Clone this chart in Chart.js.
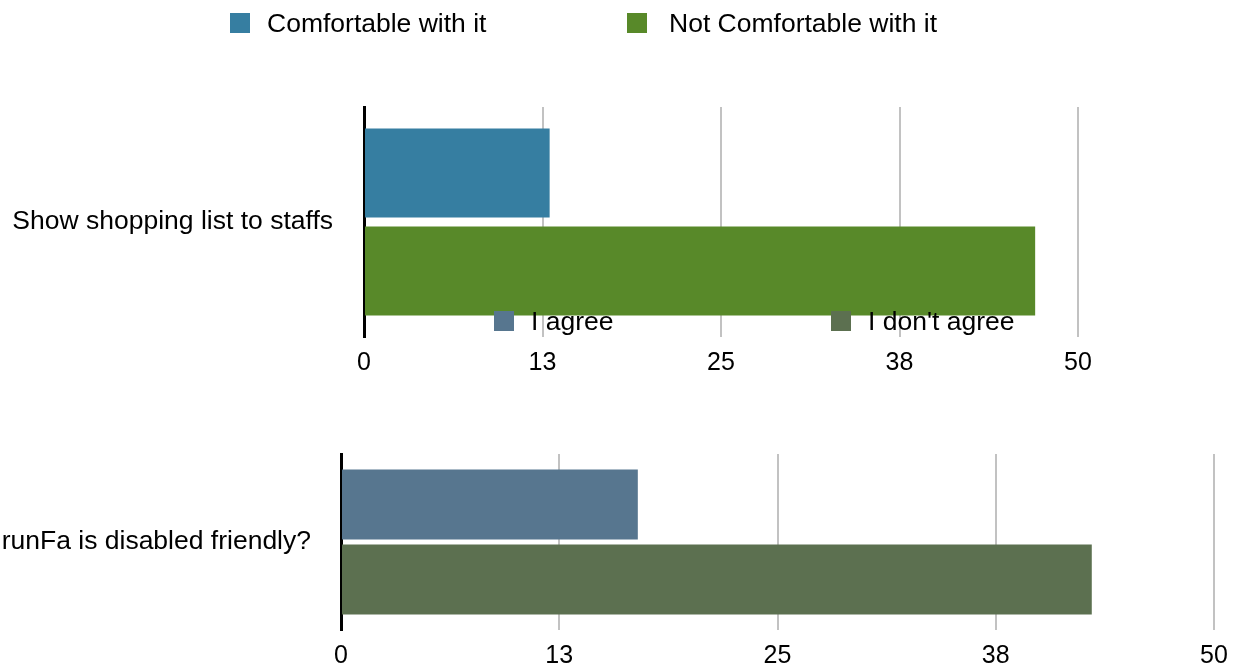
<!DOCTYPE html>
<html>
<head>
<meta charset="utf-8">
<script src="https://cdn.jsdelivr.net/npm/chart.js@4/dist/chart.umd.min.js"></script>
<style>
  html, body { margin: 0; padding: 0; background: #fff; }
  body { width: 1240px; height: 668px; position: relative; overflow: hidden; font-family: "Liberation Sans", Arial, sans-serif; }
  .panel { position: absolute; left: 0; width: 1240px; }
  .legend { position: absolute; z-index: 5; font-size: 26.5px; color: #000; white-space: nowrap; }
  .legend .item { position: absolute; top: 0; height: 20px; }
  .legend .box { position: absolute; left: 0; top: 0; width: 20px; height: 20px; }
  .legend .txt { position: absolute; top: -5px; line-height: 30px; }
</style>
</head>
<body>
<div class="panel" id="p1" style="top:0;height:385px"><canvas id="c1"></canvas></div>
<div class="panel" id="p2" style="top:400px;height:268px"><canvas id="c2"></canvas></div>
<div class="legend" id="l1" style="left:0;top:13px"></div>
<div class="legend" id="l2" style="left:0;top:311px"></div>
<script>
// Survey answers (number of respondents)
const staffCategories = ['Show shopping list to staffs'];
const staffSeriesNames = ['Comfortable with it', 'Not Comfortable with it'];
const staffComfortable = [13];
const staffNotComfortable = [47];

const accessCategories = ['runFa is disabled friendly?'];
const accessSeriesNames = ['I agree', "I don't agree"];
const accessAgree = [17];
const accessDisagree = [43];

const axisMax = 50;
const axisStep = 12.5;

const FONT = '"Liberation Sans", Arial, sans-serif';

function makeOptions(cfg) {
  return {
    indexAxis: 'y',
    responsive: true,
    maintainAspectRatio: false,
    animation: false,
    layout: { padding: cfg.padding },
    plugins: { legend: { display: false }, tooltip: { enabled: false } },
    datasets: { bar: { categoryPercentage: cfg.cp, barPercentage: cfg.bp } },
    scales: {
      x: {
        min: 0, max: axisMax,
        ticks: {
          stepSize: axisStep,
          padding: 11,
          color: '#000',
          font: { family: FONT, size: 25 },
          callback: v => Math.round(v)
        },
        grid: { color: '#c2c2c2', lineWidth: 2, drawTicks: false },
        border: { display: false },
        afterFit: s => { s.height = cfg.xHeight; s.paddingLeft = 0; s.paddingRight = 0; }
      },
      y: {
        ticks: { padding: cfg.labelGap, color: '#000', font: { family: FONT, size: 26.5 } },
        grid: { display: false, drawTicks: false },
        border: { display: true, color: '#000', width: 3 },
        afterFit: s => { s.width = cfg.yWidth; s.paddingTop = 0; s.paddingBottom = 0; }
      }
    }
  };
}

const chart1 = new Chart(document.getElementById('c1'), {
  type: 'bar',
  data: {
    labels: staffCategories,
    datasets: [
      { label: staffSeriesNames[0], data: staffComfortable, backgroundColor: '#367ea1' },
      { label: staffSeriesNames[1], data: staffNotComfortable, backgroundColor: '#588929' }
    ]
  },
  options: makeOptions({ padding: { left: 0, right: 162, top: 107, bottom: 0 }, xHeight: 48, yWidth: 364, labelGap: 31, cp: 0.852, bp: 0.91 })
});

const chart2 = new Chart(document.getElementById('c2'), {
  type: 'bar',
  data: {
    labels: accessCategories,
    datasets: [
      { label: accessSeriesNames[0], data: accessAgree, backgroundColor: '#57768f' },
      { label: accessSeriesNames[1], data: accessDisagree, backgroundColor: '#5c7050' }
    ]
  },
  options: makeOptions({ padding: { left: 0, right: 26, top: 54, bottom: 0 }, xHeight: 38, yWidth: 341, labelGap: 30, cp: 0.852, bp: 0.935 })
});

// Legends built from each chart's datasets
function buildLegend(el, chart, boxXs, textXs) {
  chart.data.datasets.forEach((ds, i) => {
    const item = document.createElement('div');
    item.className = 'item';
    item.style.left = boxXs[i] + 'px';
    const box = document.createElement('div');
    box.className = 'box';
    box.style.background = ds.backgroundColor;
    const txt = document.createElement('div');
    txt.className = 'txt';
    txt.style.left = (textXs[i] - boxXs[i]) + 'px';
    txt.textContent = ds.label;
    item.appendChild(box);
    item.appendChild(txt);
    el.appendChild(item);
  });
}
buildLegend(document.getElementById('l1'), chart1, [230, 627], [267, 669]);
buildLegend(document.getElementById('l2'), chart2, [494, 831], [531, 868]);
</script>
</body>
</html>
